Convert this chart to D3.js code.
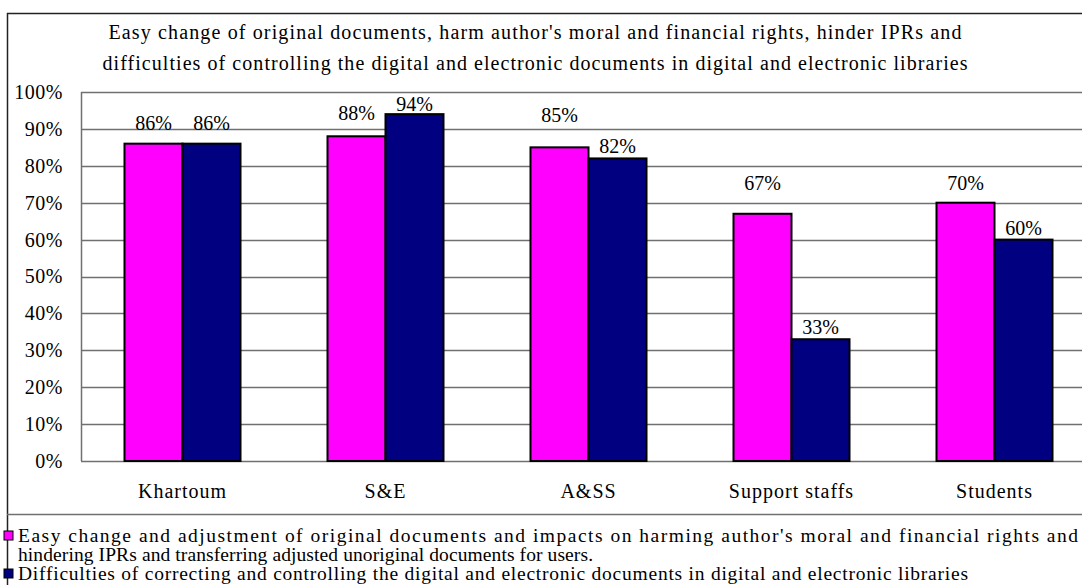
<!DOCTYPE html>
<html>
<head>
<meta charset="utf-8">
<script src="https://cdn.jsdelivr.net/npm/d3@7"></script>
<style>
  body { margin: 0; background: #fff; }
  svg, svg text { font-family: "Liberation Serif", "Times New Roman", serif !important; fill: #000; }
</style>
</head>
<body>
<div id="chart"></div>
<script>
// chart data
var categories = ["Khartoum", "S&E", "A&SS", "Support staffs", "Students"];
var easyChange = [0.86, 0.88, 0.85, 0.67, 0.70];
var difficulties = [0.86, 0.94, 0.82, 0.33, 0.60];
var seriesNames = [
    "Easy change and adjustment of original documents and impacts on harming author's moral and financial rights and hindering IPRs and transferring adjusted unoriginal documents for users.",
    "Difficulties of correcting and controlling the digital and electronic documents in digital and electronic libraries"
];
var yTicks = [0, 0.1, 0.2, 0.3, 0.4, 0.5, 0.6, 0.7, 0.8, 0.9, 1.0];
var titleLines = [
    "Easy change of original documents, harm author's moral and financial rights, hinder IPRs and",
    "difficulties of controlling the digital and electronic documents in digital and electronic libraries"
];
// how far each value label sits above its bar (px)
var labelLift = [[21, 23, 32, 31, 20], [21, 10, 12, 12, 12]];
var colors = ["#ff00ff", "#000080"];

var svgWidth = 1082, svgHeight = 585;
var margin = { top: 92, left: 81 };
var width = 1015, height = 369;

var svg = d3.select("#chart").append("svg")
    .attr("width", svgWidth)
    .attr("height", svgHeight);

// outer frame
svg.append("rect")
    .attr("x", 7.5).attr("y", 13.5)
    .attr("width", 1100).attr("height", 600)
    .attr("fill", "none").attr("stroke", "#222").attr("stroke-width", 1.5);

// title
var titleWidths = [853, 865];
svg.selectAll(".title").data(titleLines).enter().append("text")
    .attr("class", "title")
    .attr("x", 535)
    .attr("y", (d, i) => 39 + i * 31)
    .attr("text-anchor", "middle")
    .attr("textLength", (d, i) => titleWidths[i])
    .attr("lengthAdjust", "spacing")
    .style("font-size", "20px")
    .text(d => d);

var chartGroup = svg.append("g")
    .attr("transform", `translate(${margin.left}, ${margin.top})`);

var x0 = d3.scaleBand().domain(categories).range([0, width]);
var x1 = d3.scaleBand().domain([0, 1]).range([0, 116]);
var yscale = d3.scaleLinear().domain([0, 1]).range([height, 0]);

// gridlines
chartGroup.selectAll(".grid").data(yTicks).enter().append("line")
    .attr("x1", 0).attr("x2", width)
    .attr("y1", d => Math.round(yscale(d)) + 0.5)
    .attr("y2", d => Math.round(yscale(d)) + 0.5)
    .attr("stroke", "#707070").attr("stroke-width", 1.5);

// left axis line
chartGroup.append("line")
    .attr("x1", 0.5).attr("x2", 0.5)
    .attr("y1", 0).attr("y2", height)
    .attr("stroke", "#707070").attr("stroke-width", 1.5);

// y axis labels
var leftAxis = d3.axisLeft(yscale).tickValues(yTicks).tickFormat(d3.format(".0%")).tickSize(0).tickPadding(18);
var yAxis = chartGroup.append("g").call(leftAxis);
yAxis.select(".domain").remove();
yAxis.selectAll("text").style("font-size", "20px").style("letter-spacing", "0.5px");

var series = [easyChange, difficulties];
var groups = chartGroup.selectAll(".cat").data(categories).enter().append("g")
    .attr("transform", d => `translate(${x0(d) + (x0.bandwidth() - 116) / 2}, 0)`);

groups.each(function(cat, ci) {
    var g = d3.select(this);
    series.forEach(function(vals, si) {
        g.append("rect")
            .attr("x", x1(si))
            .attr("y", yscale(vals[ci]))
            .attr("width", x1.bandwidth())
            .attr("height", height - yscale(vals[ci]))
            .attr("fill", colors[si])
            .attr("stroke", "#000").attr("stroke-width", 2);
        g.append("text")
            .attr("x", x1(si) + x1.bandwidth() / 2)
            .attr("y", yscale(vals[ci]) - labelLift[si][ci])
            .attr("dy", "0.35em")
            .attr("text-anchor", "middle")
            .style("font-size", "20px")
            .text(d3.format(".0%")(vals[ci]));
    });
});

// x axis labels
var bottomAxis = d3.axisBottom(x0).tickSize(0).tickPadding(23);
var xAxis = chartGroup.append("g").attr("transform", `translate(0, ${height})`).call(bottomAxis);
xAxis.select(".domain").remove();
xAxis.selectAll("text").style("font-size", "20px").style("letter-spacing", "1px");

// legend
svg.append("line")
    .attr("x1", 7).attr("x2", svgWidth)
    .attr("y1", 514.5).attr("y2", 514.5)
    .attr("stroke", "#707070").attr("stroke-width", 1.5);

var legendLines = [
    { text: "Easy change and adjustment of original documents and impacts on harming author's moral and financial rights and", s: 0, w: 1060 },
    { text: "hindering IPRs and transferring adjusted unoriginal documents for users.", s: -1, w: 575 },
    { text: seriesNames[1], s: 1, w: 950 }
];
var legendY = [542, 561, 580];
legendLines.forEach(function(l, i) {
    if (l.s >= 0) {
        svg.append("rect")
            .attr("x", 4).attr("y", legendY[i] - 11)
            .attr("width", 9).attr("height", 9)
            .attr("fill", colors[l.s]).attr("stroke", "#000").attr("stroke-width", 1);
    }
    svg.append("text")
        .attr("x", 18).attr("y", legendY[i])
        .attr("textLength", l.w)
        .attr("lengthAdjust", "spacing")
        .style("font-size", "19.5px")
        .text(l.text);
});
</script>
</body>
</html>
